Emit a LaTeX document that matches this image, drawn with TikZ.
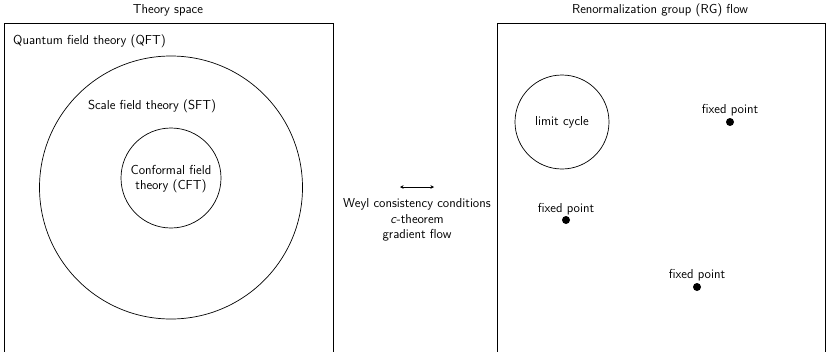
\documentclass[tikz,border=0pt]{standalone}
\usetikzlibrary{arrows.meta}
\begin{document}
\begin{tikzpicture}[x=1pt,y=-1pt,
  lbl/.style={font=\sffamily\fontsize{13}{15.5}\selectfont, inner sep=0pt},
  panel/.style={draw, line width=0.7pt},
  ring/.style={draw, line width=0.7pt},
  fp/.style={circle, fill=black, inner sep=0pt, minimum size=8pt}]
\useasboundingbox (0,0) rectangle (826,351);
\clip (0,0) rectangle (826,351);
% panels
\draw[panel] (4,360) -- (4,23) -- (333,23) -- (333,360);
\draw[panel] (497,360) -- (497,23) -- (825,23) -- (825,360);
\node[lbl] (t1) at (168,10) {Theory space};
\node[lbl] (t2) at (660,10) {Renormalization group (RG) flow};
\node[lbl, anchor=west] (qft) at (13,41) {Quantum field theory (QFT)};
% circles
\node[ring, circle, minimum size=263pt, inner sep=0pt] (sftc) at (171,187.5) {};
\node[lbl] (sft) at (152,106) {Scale field theory (SFT)};
\node[ring, circle, minimum size=100pt, inner sep=0pt] (cftc) at (171,178) {};
\node[lbl, align=center] (cft) at (171,179) {Conformal field\\theory (CFT)};
% middle
\coordinate (al) at (400,187);
\coordinate (ar) at (434,187);
\draw[{Stealth[length=3.5pt,width=3.5pt]}-{Stealth[length=3.5pt,width=3.5pt]}, line width=0.6pt] (al) -- (ar);
\node[lbl, align=center] (mid) at (417,220) {Weyl consistency conditions\\\textit{c}-theorem\\gradient flow};
% right panel
\node[ring, circle, minimum size=94pt, inner sep=0pt] (lc) at (562,122) {};
\node[lbl] (lct) at (562,122) {limit cycle};
\node[fp] (f1) at (730,122) {};
\node[lbl, anchor=south] (f1t) at (730,116) {fixed point};
\node[fp] (f2) at (566,220) {};
\node[lbl, anchor=south] (f2t) at (566,215) {fixed point};
\node[fp] (f3) at (697,287) {};
\node[lbl, anchor=south] (f3t) at (697,281) {fixed point};
\end{tikzpicture}
\end{document}
